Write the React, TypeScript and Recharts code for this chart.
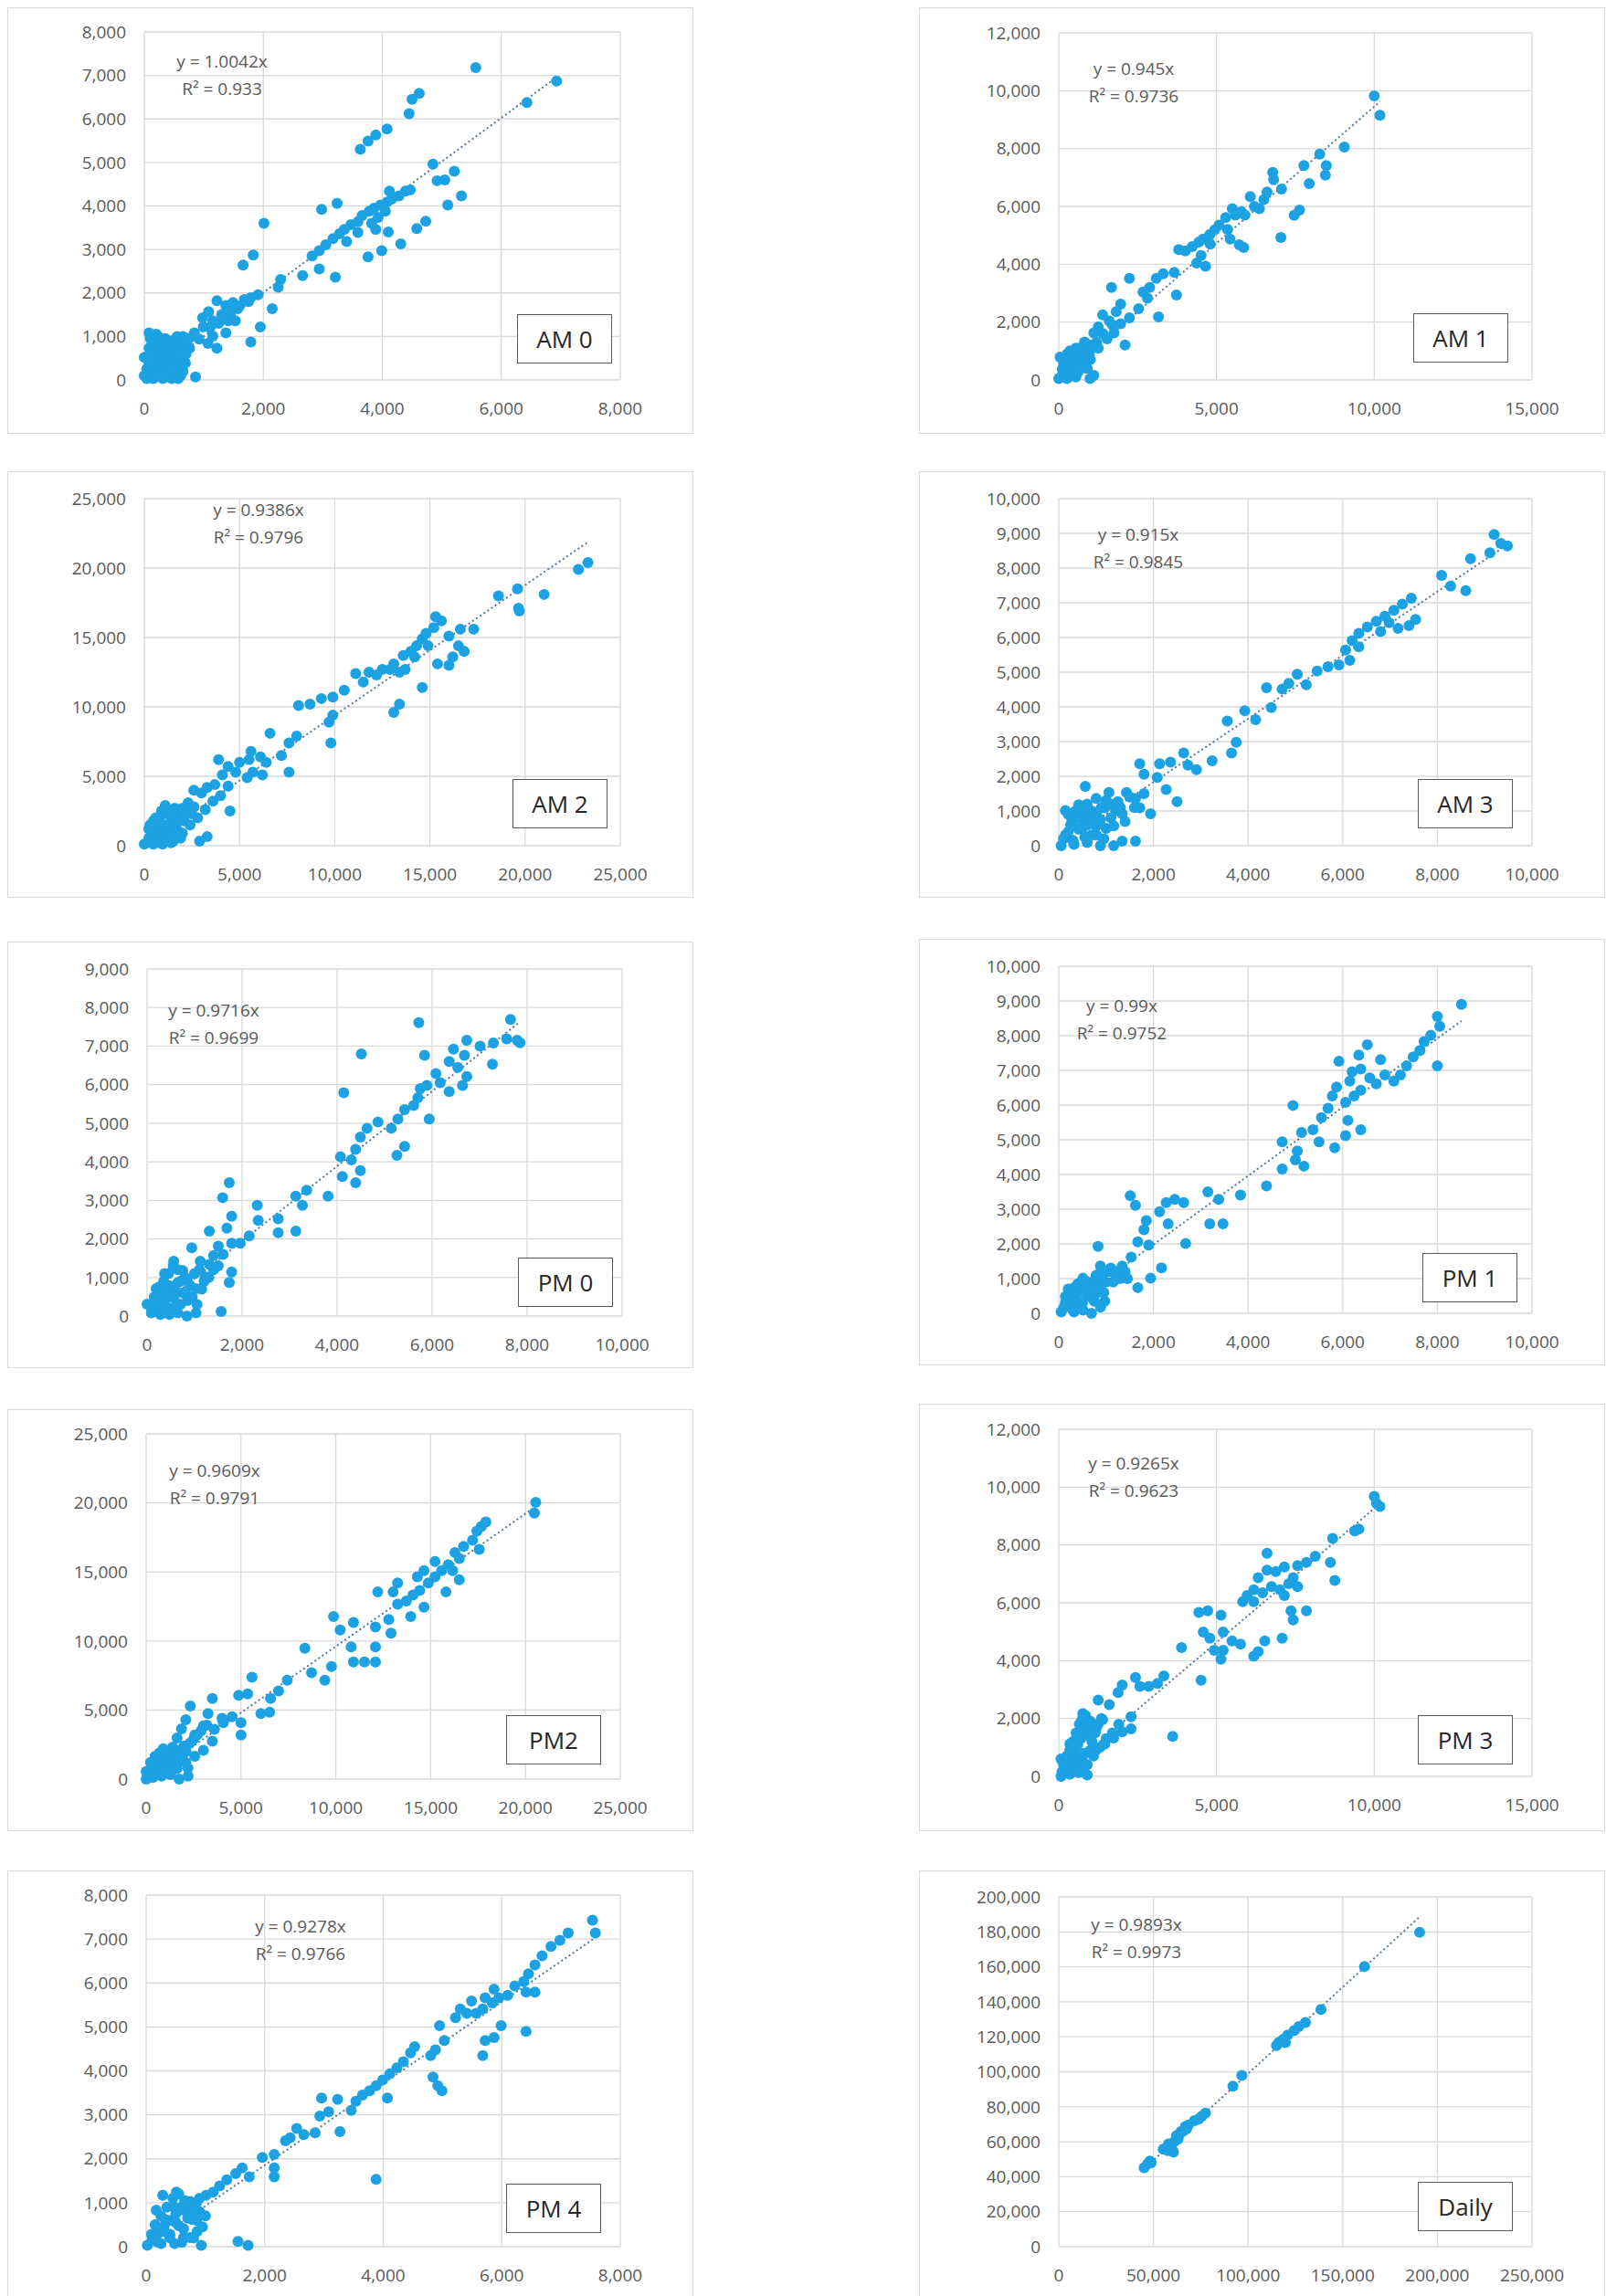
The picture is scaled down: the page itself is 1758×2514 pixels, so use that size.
import { ScatterChart, Scatter, XAxis, YAxis, CartesianGrid, ReferenceLine } from 'recharts';

type Pt = [number, number];

const am0Points: Pt[] = [
  [5570, 7180], [6930, 6870], [6430, 6380], [4620, 6590], [4500, 6450], [4450, 6120], [4080, 5770], [3890, 5630], [3760, 5490], [3630, 5300],
  [4850, 4960], [5210, 4800], [4920, 4580], [5050, 4600], [5330, 4230], [5100, 4020], [4730, 3650], [4580, 3480], [4310, 3130], [3990, 2970],
  [3760, 2830], [4100, 3400], [3890, 3460], [3240, 4060], [2980, 3920], [2940, 2550], [3210, 2360], [2660, 2400], [2820, 2850], [2290, 2310],
  [2250, 2130], [2010, 3600], [1830, 2870], [1660, 2640], [2150, 1640], [1950, 1220], [1790, 870], [1220, 1820], [1080, 1570], [980, 1430],
  [860, 70], [2940, 2970], [3050, 3110], [3170, 3250], [3280, 3360], [3360, 3460], [3470, 3570], [3590, 3640], [3660, 3780], [3780, 3880],
  [3860, 3950], [3970, 4020], [4080, 4090], [4160, 4160], [4280, 4230], [4390, 4340], [4470, 4370], [4120, 4340], [4050, 3880], [3930, 3740],
  [3820, 3600], [3590, 3390], [3400, 3180], [840, 1080], [990, 1220], [1150, 1360], [1300, 1500], [1370, 1710], [1490, 1780], [1570, 1640],
  [1680, 1850], [1790, 1890], [1910, 1960], [1410, 1360], [1530, 1360], [920, 940], [1070, 840], [1220, 730], [1150, 1010], [1370, 1080],
  [650, 870], [760, 730], [610, 590], [530, 460], [80, 1080], [150, 940], [120, 800], [230, 1010], [310, 870], [380, 730],
  [190, 590], [80, 390], [0, 100], [40, 30], [150, 30], [310, 30], [460, 30], [570, 30], [230, 250], [380, 320],
  [500, 450], [270, 520], [420, 520], [530, 660], [690, 730], [80, 730], [0, 520], [40, 250], [190, 140], [340, 180],
  [500, 210], [610, 100], [690, 390], [100, 200], [200, 350], [300, 450], [400, 600], [500, 700], [600, 800], [150, 650],
  [250, 800], [350, 950], [450, 900], [550, 1000], [650, 1000], [100, 950], [200, 1050], [300, 300], [450, 300], [600, 300],
  [700, 600], [200, 100], [350, 100], [500, 100], [650, 200], [100, 450], [280, 680], [420, 820], [560, 560], [700, 850],
  [750, 950], [1100, 1200], [1250, 1300], [1450, 1550], [1600, 1700], [1750, 1800],
];

const am1Points: Pt[] = [
  [10000, 9820], [10180, 9150], [9050, 8050], [8270, 7810], [7770, 7410], [8480, 7410], [8450, 7080], [7940, 6790], [7630, 5870], [7460, 5690],
  [7040, 4930], [6780, 7180], [6810, 6920], [7060, 6600], [6500, 6240], [6360, 5920], [6070, 6340], [5790, 5820], [5500, 5920], [5290, 5610],
  [5080, 5350], [4940, 5190], [4790, 5030], [4580, 4870], [4440, 4770], [4230, 4610], [4010, 4460], [3800, 4510], [4370, 4040], [4650, 3930],
  [4510, 4300], [5720, 4670], [5430, 4870], [5860, 4580], [3660, 3720], [3730, 2940], [3310, 3670], [3090, 3510], [2880, 3200], [2670, 3040],
  [2240, 3510], [3160, 2180], [1670, 3200], [1960, 2620], [1820, 2360], [1600, 2040], [1390, 2250], [1250, 1830], [2100, 1210], [1960, 1940],
  [1110, 1630], [820, 1310], [540, 1100], [260, 890], [40, 790], [400, 580], [680, 680], [970, 890], [1110, 160], [990, 50],
  [110, 370], [0, 50], [260, 50], [540, 100], [820, 420], [1250, 1100], [1530, 1420], [1750, 1630], [2240, 2150], [2530, 2460],
  [2810, 2830], [540, 370], [5600, 5700], [5900, 5700], [6200, 6000], [5350, 5200], [4800, 4700], [6600, 6500], [100, 150], [200, 300],
  [300, 450], [400, 300], [500, 600], [600, 800], [700, 900], [800, 1000], [900, 1100], [1000, 1200], [150, 600], [300, 750],
  [450, 900], [650, 1100], [200, 100], [400, 150], [600, 250], [800, 600], [1000, 700], [1200, 1300], [1400, 1600], [1700, 1900],
  [900, 400], [350, 1000], [700, 450],
];

const am2Points: Pt[] = [
  [23300, 20400], [22800, 19900], [21000, 18100], [19700, 16900], [19650, 17100], [19600, 18500], [18600, 18000], [17300, 15600], [16600, 15600], [16000, 15100],
  [15600, 16200], [15300, 16500], [15200, 15700], [14800, 15300], [14600, 14900], [14300, 14400], [14000, 14000], [13600, 13700], [13100, 13100], [13400, 12500],
  [12900, 12700], [12500, 12700], [12200, 12300], [11800, 12500], [11100, 12400], [11500, 11800], [10500, 11200], [9900, 10700], [9900, 9400], [9300, 10600],
  [8700, 10200], [8100, 10100], [13100, 9600], [13400, 10200], [14600, 11400], [15400, 13100], [16000, 13000], [16200, 13600], [16800, 14000], [16500, 14400],
  [14900, 14400], [14200, 13600], [13700, 12700], [9800, 7400], [9700, 8900], [8000, 7900], [7600, 7400], [7200, 6500], [6600, 8100], [7600, 5300],
  [6400, 6000], [6100, 6400], [5600, 6800], [5500, 6200], [5000, 6000], [4800, 5300], [4400, 5700], [4100, 5100], [4500, 2500], [3900, 6200],
  [3700, 4400], [3300, 4200], [3000, 3800], [2600, 4000], [2300, 3100], [2000, 2700], [1800, 2300], [1400, 1800], [1200, 1400], [3300, 650],
  [2900, 330], [2100, 1800], [1700, 1200], [950, 980], [600, 760], [240, 540], [0, 110], [480, 110], [950, 110], [1400, 220],
  [1900, 540], [240, 1200], [480, 1800], [840, 2100], [720, 1400], [1200, 2300], [1600, 2700], [2500, 2300], [5400, 4900], [5700, 5300],
  [6200, 5100], [200, 300], [400, 600], [600, 900], [800, 1200], [1000, 1500], [1200, 1000], [1400, 700], [1600, 1500], [1800, 1800],
  [2000, 2100], [2200, 2500], [300, 1500], [600, 2000], [900, 2500], [1100, 2900], [1300, 2600], [500, 300], [1000, 400], [1500, 300],
  [2000, 900], [2400, 1500], [2800, 2000], [3200, 2600], [3600, 3200], [4000, 3600], [4400, 4300], [700, 1700], [1500, 2100], [2600, 2800],
];

const am3Points: Pt[] = [
  [9200, 8970], [9480, 8640], [9340, 8710], [9110, 8440], [8700, 8270], [8090, 7790], [8280, 7480], [8600, 7350], [7450, 7130], [7260, 6960],
  [7080, 6780], [6890, 6610], [6710, 6470], [6520, 6300], [6340, 6120], [6200, 5910], [6060, 5640], [7540, 6520], [7400, 6340], [7170, 6260],
  [6980, 6430], [6800, 6170], [6340, 5730], [6150, 5340], [5920, 5210], [5690, 5160], [5460, 5030], [5230, 4640], [5040, 4940], [4860, 4680],
  [4720, 4510], [4390, 4550], [4490, 3980], [4160, 3630], [3930, 3890], [3560, 3590], [3750, 2980], [3650, 2670], [3240, 2450], [2910, 2190],
  [2640, 2670], [2730, 2320], [2360, 2410], [2130, 2360], [1710, 2360], [1800, 2060], [2080, 1970], [2270, 1620], [2500, 1270], [1940, 920],
  [1620, 1360], [1430, 1530], [1250, 1270], [1060, 1530], [790, 1360], [560, 1710], [420, 1180], [140, 1010], [280, 740], [650, 920],
  [880, 740], [1160, 570], [1340, 130], [1620, 130], [1160, 0], [880, 0], [50, 0], [320, 40], [600, 90], [140, 310],
  [420, 480], [690, 310], [790, 570], [510, 740], [970, 1090], [1340, 920], [1710, 1090], [100, 200], [200, 400], [300, 600],
  [400, 800], [500, 1000], [600, 1200], [700, 1000], [800, 900], [900, 1100], [1000, 1300], [1100, 1200], [1200, 1000], [200, 900],
  [350, 1000], [500, 500], [600, 600], [700, 700], [800, 300], [1000, 500], [1100, 800], [1300, 1100], [1500, 1400], [300, 150],
  [550, 250], [950, 200], [1400, 700], [1600, 1100], [1800, 1500], [250, 600],
];

const pm0Points: Pt[] = [
  [7650, 7690], [7850, 7090], [7790, 7150], [7570, 7190], [7290, 7080], [7270, 6530], [7010, 7000], [6730, 7150], [6680, 6760], [6450, 6920],
  [6360, 6600], [6540, 6450], [6730, 6210], [6640, 5980], [6360, 5820], [6170, 6050], [6080, 6290], [5890, 5980], [5700, 5660], [5610, 5460],
  [5750, 5900], [5940, 5110], [5720, 7610], [5840, 6760], [5420, 5350], [5280, 5110], [5140, 4870], [5420, 4400], [5260, 4170], [4860, 5030],
  [4630, 4870], [4490, 4640], [4390, 4320], [4300, 4050], [4490, 3770], [4390, 3460], [4140, 5790], [4510, 6800], [4070, 4130], [4110, 3620],
  [3810, 3110], [3360, 3260], [3270, 2870], [3130, 3110], [3130, 2200], [2760, 2520], [2760, 2160], [2320, 2870], [2340, 2480], [2150, 2080],
  [1730, 3460], [1590, 3070], [1780, 2590], [1680, 2280], [1780, 1890], [1960, 1890], [1500, 1810], [1310, 2200], [940, 1770], [1780, 1140],
  [1730, 870], [1560, 120], [1310, 1340], [1220, 1020], [1120, 1420], [1400, 1570], [560, 1420], [750, 1180], [370, 1100], [190, 710],
  [470, 790], [650, 870], [840, 940], [1030, 710], [840, 550], [0, 310], [90, 80], [280, 40], [470, 40], [650, 80],
  [840, 0], [1030, 80], [190, 240], [370, 390], [560, 470], [280, 550], [650, 310], [100, 150], [200, 300], [300, 450],
  [400, 600], [500, 750], [600, 650], [700, 900], [800, 1000], [900, 800], [1000, 1100], [1100, 1200], [1200, 900], [150, 500],
  [250, 750], [350, 900], [450, 1100], [550, 1300], [650, 1200], [750, 600], [850, 400], [950, 500], [1050, 300], [1150, 700],
  [1300, 1000], [1400, 1200], [500, 200], [700, 300], [300, 200], [1500, 1300], [1600, 1600],
];

const pm1Points: Pt[] = [
  [8510, 8900], [8000, 8550], [8050, 8270], [8000, 7130], [7860, 8010], [7720, 7830], [7630, 7570], [7490, 7390], [7350, 7130], [7220, 6870],
  [7080, 6690], [6890, 6870], [6800, 7310], [6710, 6610], [6570, 6780], [6520, 7740], [6340, 7440], [6380, 7040], [5920, 7260], [6200, 6960],
  [6150, 6690], [6380, 6430], [6240, 6260], [6060, 6080], [5870, 6520], [5780, 6260], [5690, 5910], [5550, 5640], [6110, 5560], [6380, 5290],
  [6060, 5120], [5830, 4770], [5500, 4940], [5370, 5290], [5130, 5210], [4950, 5990], [4720, 4940], [5040, 4680], [5180, 4240], [5000, 4420],
  [4720, 4160], [4390, 3670], [3840, 3410], [3380, 3280], [3150, 3500], [3470, 2580], [3190, 2580], [2680, 2010], [2640, 3190], [2450, 3280],
  [2270, 3190], [2130, 2930], [2310, 2580], [1850, 2670], [1800, 2410], [1620, 3110], [1510, 3390], [1670, 2060], [1900, 1970], [1530, 1620],
  [2170, 1310], [1940, 1010], [1670, 740], [1340, 1360], [1160, 1180], [830, 1930], [880, 1360], [790, 1090], [690, 830], [510, 1010],
  [320, 740], [140, 480], [50, 40], [320, 40], [510, 90], [690, 0], [880, 180], [970, 350], [420, 310], [230, 220],
  [600, 480], [790, 570], [140, 310], [100, 150], [200, 300], [300, 450], [400, 600], [500, 750], [600, 700], [700, 900],
  [800, 1100], [900, 1000], [1000, 1200], [1100, 1300], [1200, 1200], [1300, 1000], [250, 600], [400, 850], [550, 950], [700, 600],
  [850, 800], [1000, 900], [300, 100], [500, 300], [750, 350], [950, 600], [1150, 900], [1400, 1200], [1450, 1000], [200, 700],
  [150, 250],
];

const pm2Points: Pt[] = [
  [20540, 20040], [20470, 19270], [17910, 18610], [17670, 18280], [17440, 17950], [17210, 17290], [17560, 16630], [16740, 16850], [16280, 16410], [16510, 15970],
  [15930, 15530], [15580, 15090], [15230, 14650], [14880, 14210], [14420, 13660], [14070, 13330], [13720, 12890], [13260, 12670], [13020, 13550], [12210, 13550],
  [12790, 11560], [13950, 11780], [14650, 12450], [15810, 13550], [16510, 14430], [16160, 15090], [15230, 15750], [14650, 15090], [14300, 14650], [13260, 14210],
  [12910, 10570], [12090, 11010], [12090, 9580], [12090, 8480], [11510, 8480], [10930, 8480], [10930, 11340], [10810, 9580], [10230, 10790], [9880, 11780],
  [9770, 8150], [9420, 7160], [8720, 7710], [8370, 9470], [7440, 7160], [6980, 6390], [6560, 5840], [6510, 4850], [6050, 4740], [5580, 7380],
  [5350, 6170], [4880, 6060], [5000, 4080], [4530, 4520], [5000, 3190], [4070, 4080], [3490, 5840], [3260, 4740], [3020, 3860], [3490, 2750],
  [2560, 3190], [2330, 5290], [2090, 4300], [1860, 3630], [1630, 2970], [1400, 2310], [1160, 1870], [930, 1650], [470, 1650], [230, 1210],
  [700, 990], [0, 550], [0, 0], [350, 110], [810, 220], [1280, 330], [1740, 0], [2210, 220], [1630, 770], [2090, 1210],
  [2560, 1650], [3020, 2090], [1160, 990], [200, 300], [400, 600], [600, 800], [800, 1100], [1000, 1300], [1200, 1500], [1400, 1700],
  [1600, 1900], [1800, 2100], [2000, 2400], [300, 1000], [500, 1500], [700, 1900], [900, 2200], [1100, 1400], [1300, 1100], [1500, 900],
  [1700, 1300], [1900, 1600], [2100, 2000], [2300, 2600], [2500, 2900], [2700, 3200], [2900, 3500], [3200, 3900], [3600, 3600], [4000, 4400],
  [400, 250], [900, 500], [1300, 500], [2200, 800],
];

const pm3Points: Pt[] = [
  [10000, 9680], [10180, 9330], [10070, 9440], [9510, 8550], [9380, 8490], [8680, 8230], [8610, 7400], [8750, 6770], [8130, 7610], [7850, 7400],
  [7570, 7290], [7430, 6870], [7150, 7240], [6880, 7080], [6600, 7710], [6600, 7130], [6320, 6870], [6180, 6450], [5970, 6250], [5830, 6040],
  [6180, 6040], [6460, 6350], [6740, 6560], [7010, 6450], [7290, 6660], [7570, 6560], [7150, 6250], [7360, 5720], [7430, 5410], [7850, 5720],
  [7080, 4780], [6530, 4680], [6320, 4310], [6180, 4150], [5760, 4570], [5490, 4680], [5210, 4990], [5140, 4050], [5210, 4360], [4930, 4360],
  [4790, 4780], [4580, 4990], [4440, 5670], [4720, 5720], [5140, 5570], [4510, 3320], [3890, 4450], [3330, 3470], [3130, 3210], [2850, 3110],
  [2570, 3110], [2430, 3420], [2010, 3160], [1880, 2900], [1600, 2480], [2290, 2060], [2290, 1640], [3610, 1380], [1250, 2640], [1390, 1960],
  [1180, 1640], [760, 2170], [690, 1850], [630, 1430], [350, 1120], [70, 600], [70, 0], [350, 70], [630, 130], [900, 50],
  [760, 490], [900, 810], [1180, 910], [1460, 1120], [1740, 1330], [2010, 1540], [490, 810], [210, 390], [560, 390], [100, 150],
  [200, 300], [300, 500], [400, 700], [500, 900], [600, 1100], [700, 1300], [800, 1500], [900, 1700], [1000, 1900], [150, 400],
  [250, 700], [350, 900], [450, 1200], [550, 1500], [650, 1800], [750, 2000], [850, 2100], [950, 1400], [1050, 1200], [1150, 1500],
  [1250, 1800], [1350, 2000], [600, 600], [800, 800], [1000, 900], [700, 200], [500, 300], [900, 400], [1100, 700], [1300, 1000],
  [1500, 1300], [1700, 1500], [1900, 1800],
];

const pm4Points: Pt[] = [
  [7530, 7430], [7580, 7140], [7120, 7140], [6980, 6970], [6830, 6830], [6680, 6620], [6560, 6410], [6450, 6210], [6370, 6030], [6410, 5790],
  [6560, 5790], [6410, 4900], [6220, 5930], [6100, 5720], [5950, 5660], [5840, 5550], [5680, 5410], [5570, 5310], [5410, 5310], [5300, 5410],
  [5490, 5590], [5720, 5660], [5870, 5860], [5990, 5030], [5870, 4760], [5720, 4690], [5680, 4350], [5220, 5210], [4950, 5030], [5030, 4690],
  [4880, 4480], [4800, 4350], [4530, 4550], [4460, 4410], [4340, 4210], [4230, 4070], [4110, 3930], [3990, 3790], [3880, 3660], [3770, 3550],
  [3650, 3450], [3540, 3310], [3460, 3100], [4840, 3860], [4920, 3660], [4990, 3550], [4070, 3380], [3880, 1530], [3270, 2620], [3230, 3350],
  [2960, 3380], [3080, 3070], [2930, 2970], [2850, 2590], [2660, 2550], [2540, 2690], [2430, 2480], [2350, 2410], [2160, 2100], [1960, 2030],
  [2160, 1790], [2160, 1590], [1740, 1590], [1620, 1790], [1510, 1660], [1360, 1520], [1240, 1380], [1130, 1240], [1010, 1170], [900, 1100],
  [740, 1030], [510, 1240], [280, 1170], [170, 830], [320, 620], [480, 900], [630, 830], [780, 620], [860, 350], [630, 210],
  [480, 70], [250, 70], [20, 30], [90, 280], [280, 410], [550, 480], [740, 210], [930, 30], [1550, 120], [1720, 30],
  [630, 410], [400, 280], [100, 150], [200, 300], [300, 450], [400, 600], [500, 750], [600, 900], [700, 1000], [800, 900],
  [900, 800], [150, 500], [250, 700], [350, 900], [450, 1100], [550, 1200], [650, 1050], [750, 800], [850, 600], [950, 450],
  [200, 100], [400, 200], [600, 100], [800, 200], [300, 350], [500, 550], [700, 650], [850, 1000], [1000, 700],
];

const dailyPoints: Pt[] = [
  [190600, 179700], [161500, 160200], [138500, 135600], [130300, 128200], [126800, 125800], [124400, 123600], [120900, 121000], [118500, 118500],
  [116200, 116700], [115000, 115000], [119700, 116700], [96700, 97900], [92000, 91800], [77500, 76400], [75600, 74700], [73900, 73000],
  [71600, 72100], [66900, 68700], [65700, 66100], [63800, 64400], [62200, 63500], [61000, 60100], [59200, 57500], [57500, 54900],
  [55200, 55800], [60600, 54100], [48100, 48900], [46900, 47200], [45100, 45200], [48800, 48100], [56500, 56300], [58000, 58700],
  [63000, 61500], [64500, 65800], [67500, 67300], [68500, 69600], [59800, 55700],
];

const panelLabels = ['AM 0', 'AM 1', 'AM 2', 'AM 3', 'PM 0', 'PM 1', 'PM2', 'PM 3', 'PM 4', 'Daily'];
const slopes = ['1.0042', '0.945', '0.9386', '0.915', '0.9716', '0.99', '0.9609', '0.9265', '0.9278', '0.9893'];
const r2Values = ['0.933', '0.9736', '0.9796', '0.9845', '0.9699', '0.9752', '0.9791', '0.9623', '0.9766', '0.9973'];

const xTicks8k = [0, 2000, 4000, 6000, 8000];
const xTicks10k = [0, 2000, 4000, 6000, 8000, 10000];
const xTicks15k = [0, 5000, 10000, 15000];
const xTicks25k = [0, 5000, 10000, 15000, 20000, 25000];
const xTicks250k = [0, 50000, 100000, 150000, 200000, 250000];
const yTicks8k = [0, 1000, 2000, 3000, 4000, 5000, 6000, 7000, 8000];
const yTicks9k = [0, 1000, 2000, 3000, 4000, 5000, 6000, 7000, 8000, 9000];
const yTicks10k = [0, 1000, 2000, 3000, 4000, 5000, 6000, 7000, 8000, 9000, 10000];
const yTicks12k = [0, 2000, 4000, 6000, 8000, 10000, 12000];
const yTicks25k = [0, 5000, 10000, 15000, 20000, 25000];
const yTicks200k = [0, 20000, 40000, 60000, 80000, 100000, 120000, 140000, 160000, 180000, 200000];

const panelPoints = [am0Points, am1Points, am2Points, am3Points, pm0Points, pm1Points, pm2Points, pm3Points, pm4Points, dailyPoints];
const panelXTicks = [xTicks8k, xTicks15k, xTicks25k, xTicks10k, xTicks10k, xTicks10k, xTicks25k, xTicks15k, xTicks8k, xTicks250k];
const panelYTicks = [yTicks8k, yTicks12k, yTicks25k, yTicks10k, yTicks9k, yTicks10k, yTicks25k, yTicks12k, yTicks8k, yTicks200k];

// placement of each panel on the page (px)
const LAYOUT = [
  { left: 8, top: 8, h: 467, m: { top: 26, right: 79, bottom: 18, left: 49 }, eq: [234, 58], box: [557, 335] },
  { left: 1006, top: 8, h: 467, m: { top: 27, right: 79, bottom: 18, left: 52 }, eq: [234, 66], box: [540, 334] },
  { left: 8, top: 516, h: 467, m: { top: 29, right: 79, bottom: 16, left: 49 }, eq: [274, 41], box: [552, 336] },
  { left: 1006, top: 516, h: 467, m: { top: 29, right: 79, bottom: 16, left: 52 }, eq: [239, 68], box: [545, 336] },
  { left: 8, top: 1031, h: 467, m: { top: 29, right: 77, bottom: 16, left: 52 }, eq: [225, 74], box: [558, 345] },
  { left: 1006, top: 1028, h: 467, m: { top: 29, right: 79, bottom: 16, left: 52 }, eq: [221, 72], box: [550, 343] },
  { left: 8, top: 1543, h: 462, m: { top: 26, right: 79, bottom: 16, left: 51 }, eq: [226, 66], box: [545, 334] },
  { left: 1006, top: 1537, h: 468, m: { top: 27, right: 79, bottom: 19, left: 52 }, eq: [234, 64], box: [545, 340] },
  { left: 8, top: 2048, h: 467, m: { top: 26, right: 79, bottom: 14, left: 51 }, eq: [320, 60], box: [545, 342] },
  { left: 1006, top: 2048, h: 467, m: { top: 28, right: 79, bottom: 14, left: 52 }, eq: [237, 58], box: [545, 340] },
];

const PANEL_W = 751;
const DOT = '#1ca2e2';
const TREND = '#56799e';
const TEXT = '#595959';
const GRID = '#d9d9d9';

const fmt = (v: number) => v.toLocaleString('en-US');

function Panel({ idx }: { idx: number }) {
  const lay = LAYOUT[idx];
  const data = panelPoints[idx].map(([x, y]) => ({ x, y }));
  const xt = panelXTicks[idx];
  const yt = panelYTicks[idx];
  const k = Number(slopes[idx]);
  const xs = panelPoints[idx].map((p) => p[0]);
  const x0 = Math.min(...xs);
  const x1 = Math.max(...xs);

  return (
    <div
      style={{
        position: 'absolute',
        left: lay.left,
        top: lay.top,
        width: PANEL_W,
        height: lay.h,
        border: `1px solid ${GRID}`,
        boxSizing: 'border-box',
        background: '#fff',
      }}
    >
      <ScatterChart width={PANEL_W - 2} height={lay.h - 2} margin={lay.m}>
        <CartesianGrid stroke={GRID} strokeWidth={1.3} />
        <XAxis
          type="number"
          dataKey="x"
          domain={[0, xt[xt.length - 1]]}
          ticks={xt}
          tickFormatter={fmt}
          axisLine={false}
          tickLine={false}
          height={40}
          tickMargin={19}
          tick={{ fill: TEXT, fontSize: 19 }}
        />
        <YAxis
          type="number"
          dataKey="y"
          domain={[0, yt[yt.length - 1]]}
          ticks={yt}
          tickFormatter={fmt}
          axisLine={false}
          tickLine={false}
          width={100}
          tickMargin={14}
          tick={{ fill: TEXT, fontSize: 19 }}
        />
        <Scatter
          data={data}
          isAnimationActive={false}
          shape={(p: any) => <circle cx={p.cx} cy={p.cy} r={6} fill={DOT} />}
        />
        <ReferenceLine
          segment={[{ x: x0, y: k * x0 }, { x: x1, y: k * x1 }]}
          stroke={TREND}
          strokeWidth={2}
          strokeDasharray="2 3"
        />
      </ScatterChart>
      <div
        style={{
          position: 'absolute',
          left: lay.eq[0] - 100,
          top: lay.eq[1] - 15,
          width: 200,
          textAlign: 'center',
          color: TEXT,
          fontSize: 19,
          lineHeight: '30px',
        }}
      >
        <div>{`y = ${slopes[idx]}x`}</div>
        <div>{`R² = ${r2Values[idx]}`}</div>
      </div>
      <div
        style={{
          position: 'absolute',
          left: lay.box[0],
          top: lay.box[1],
          width: 104,
          height: 54,
          boxSizing: 'border-box',
          border: '1.5px solid #595959',
          background: '#fff',
          display: 'flex',
          alignItems: 'center',
          justifyContent: 'center',
          fontSize: 26,
          color: '#262626',
        }}
      >
        {panelLabels[idx]}
      </div>
    </div>
  );
}

export default function App() {
  return (
    <div
      style={{
        position: 'relative',
        width: 1758,
        height: 2514,
        background: '#fff',
        overflow: 'hidden',
        fontFamily: "'Open Sans', sans-serif",
      }}
    >
      <style>{'body { margin: 0; }'}</style>
      {panelLabels.map((_, i) => (
        <Panel key={i} idx={i} />
      ))}
    </div>
  );
}
